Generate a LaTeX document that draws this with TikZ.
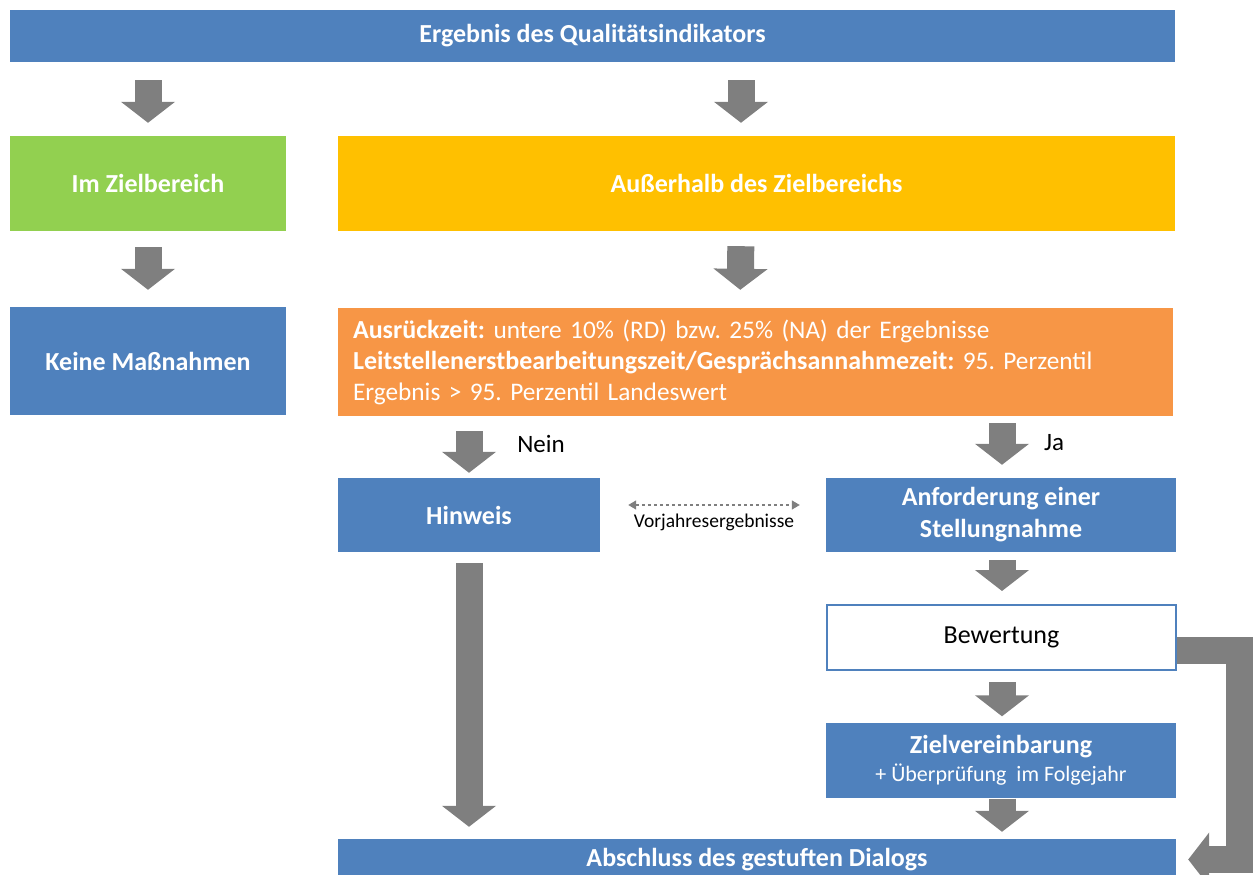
\documentclass[tikz,border=0pt]{standalone}
\usepackage{fontspec}
\setmainfont{Carlito}
\usepackage{xcolor}
\usepackage{tikz}
\usetikzlibrary{arrows.meta}
\frenchspacing

\definecolor{qblue}{HTML}{4F81BD}
\definecolor{qgreen}{HTML}{92D050}
\definecolor{qgold}{HTML}{FFC000}
\definecolor{qorange}{HTML}{F79646}
\definecolor{qgray}{HTML}{7F7F7F}

\newcommand{\kritkey}[1]{{\fontsize{26}{31}\selectfont\bfseries #1}}

\begin{document}
\begin{tikzpicture}[x=1pt, y=-1pt,
  box/.style={rectangle, inner sep=0pt, text=white, font=\fontsize{26}{31}\selectfont\bfseries, align=center},
  bluebox/.style={box, fill=qblue},
  blockarrow/.style={draw=qgray, line width=27pt, -{Triangle[width=53pt, length=21pt]}},
  lbl/.style={font=\fontsize{25}{28}\selectfont, text=black}]
\useasboundingbox (0,0) rectangle (1253,875);
\clip (0,0) rectangle (1253,875);

% Kopfzeile
\node[bluebox, minimum width=1165pt, minimum height=52pt] (top) at (592.5,36) {Ergebnis des Qualitätsindikators};

% Zweite Ebene
\node[box, fill=qgreen, minimum width=276pt, minimum height=95pt] (zb) at (148,183.5) {Im Zielbereich};
\node[box, fill=qgold, minimum width=837pt, minimum height=95pt] (azb) at (756.5,183.5) {Außerhalb des Zielbereichs};

% Dritte Ebene
\node[bluebox, minimum width=276pt, minimum height=108pt] (keine) at (148,361) {Keine Maßnahmen};
\node[box, fill=qorange, minimum width=835pt, minimum height=108pt, text width=805pt, align=left,
  font=\fontsize{25.3}{31}\selectfont] (krit) at (755.5,362)
  {\kritkey{Ausrückzeit:} untere 10\% (RD) bzw. 25\% (NA) der Ergebnisse\\
   \kritkey{Leitstellenerstbearbeitungszeit/Gesprächsannahmezeit:} 95. Perzentil\\
   Ergebnis > 95. Perzentil Landeswert};

% Hinweis und Stellungnahme
\node[bluebox, minimum width=262pt, minimum height=74pt] (hinweis) at (469,515) {Hinweis};
\node[bluebox, minimum width=350pt, minimum height=74pt, font=\fontsize{26}{32}\selectfont\bfseries] (anf) at (1001,515) {Anforderung einer\\Stellungnahme};
\node[box, fill=white, draw=qblue, line width=2pt, text=black, font=\fontsize{26}{28}\selectfont,
  minimum width=349pt, minimum height=65pt] (bew) at (1001.5,637.5) {Bewertung};
\node[bluebox, minimum width=350pt, minimum height=75pt] (ziel) at (1001,760)
  {Zielvereinbarung\\[-3pt]{\fontsize{22}{24}\selectfont\mdseries + Überprüfung\ \ im Folgejahr}};
\node[bluebox, minimum width=838pt, minimum height=41pt] (abs) at (757,859.5) {Abschluss des gestuften Dialogs};

% Blockpfeile
\draw[blockarrow, shorten <=18pt, shorten >=13pt] (top.south -| zb.north) -- (zb.north);
\draw[blockarrow, shorten <=18pt, shorten >=13pt] ([xshift=-15.5pt]azb.north |- top.south) -- ([xshift=-15.5pt]azb.north);
\draw[blockarrow, shorten <=16pt, shorten >=17pt] (zb.south) -- (keine.north);
\draw[blockarrow, shorten <=15pt, shorten >=18pt] ([xshift=-15.5pt]azb.south) -- ([xshift=-15.5pt]krit.north);
\draw[blockarrow, shorten <=15pt, shorten >=5pt] (krit.south -| hinweis.north) -- (hinweis.north);
\draw[blockarrow, shorten <=7pt, shorten >=13pt] ([xshift=1pt]krit.south -| anf.north) -- ([xshift=1pt]anf.north);
\draw[blockarrow, shorten <=8pt, shorten >=13pt] ([xshift=1pt]anf.south) -- ([xshift=1pt]anf.south |- bew.north);
\draw[blockarrow, shorten <=11pt, shorten >=6pt] ([xshift=1pt]anf.south |- bew.south) -- ([xshift=1pt]ziel.north);
\draw[blockarrow, shorten <=1pt, shorten >=7pt] ([xshift=1pt]ziel.south) -- ([xshift=1pt]ziel.south |- abs.north);
\draw[blockarrow, shorten <=11pt, shorten >=12pt] (hinweis.south) -- (hinweis.south |- abs.north);
\draw[blockarrow, line join=miter] ([yshift=-13pt]bew.east) -- ++(62,0) |- ([xshift=12pt]abs.east);

% Beschriftungen
\node[lbl] (nein) at (541,444) {Nein};
\node[lbl] (ja) at (1054,443) {Ja};

% Vorjahresvergleich
\draw[qgray, line width=1.3pt, dashed, {Triangle[width=9pt,length=8pt]}-{Triangle[width=9pt,length=8pt]}]
  ([xshift=28pt, yshift=10pt]hinweis.east) -- ([xshift=-26pt, yshift=10pt]anf.west)
  node[midway, below=5pt, text=black, font=\fontsize{19.5}{22}\selectfont] (vj) {Vorjahresergebnisse};

\end{tikzpicture}
\end{document}
